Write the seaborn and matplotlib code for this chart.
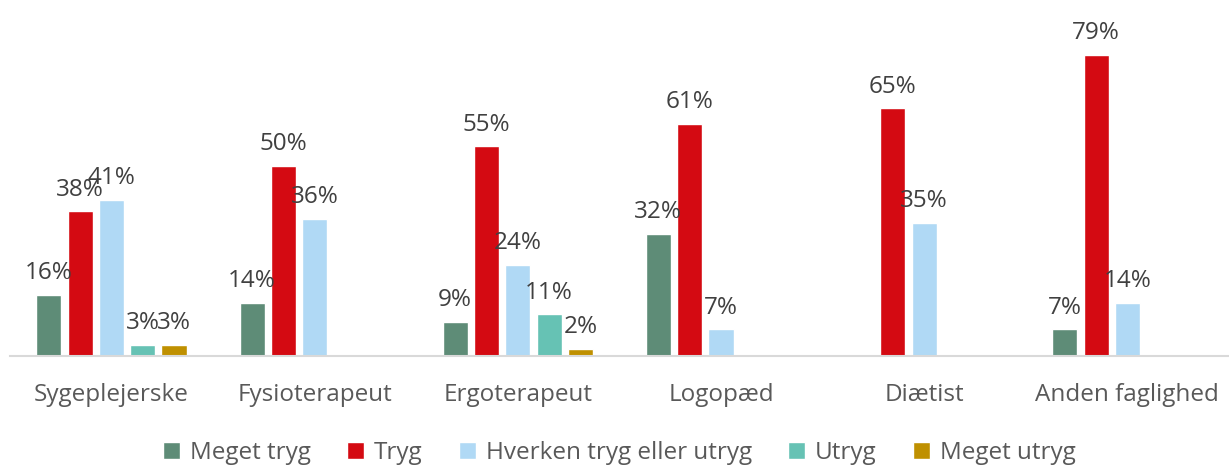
import numpy as np
import pandas as pd
import seaborn as sns
import matplotlib.pyplot as plt

categories = ["Sygeplejerske", "Fysioterapeut", "Ergoterapeut", "Logopæd", "Diætist", "Anden faglighed"]
series = ["Meget tryg", "Tryg", "Hverken tryg eller utryg", "Utryg", "Meget utryg"]
meget_tryg = [0.16, 0.14, 0.09, 0.32, np.nan, 0.07]
tryg = [0.38, 0.50, 0.55, 0.61, 0.65, 0.79]
hverken = [0.41, 0.36, 0.24, 0.07, 0.35, 0.14]
utryg = [0.03, np.nan, 0.11, np.nan, np.nan, np.nan]
meget_utryg = [0.03, np.nan, 0.02, np.nan, np.nan, np.nan]
colors = ["#5E8C77", "#D40A12", "#B0D9F5", "#66C2B4", "#BF9000"]

values = [meget_tryg, tryg, hverken, utryg, meget_utryg]
rows = []
for s, vals in zip(series, values):
    for c, v in zip(categories, vals):
        rows.append({"kategori": c, "serie": s, "andel": v})
df = pd.DataFrame(rows)

sns.set_style("white")
plt.rcParams['font.family'] = ['Open Sans', 'DejaVu Sans']

fig = plt.figure(figsize=(12.29, 4.65), dpi=100)
ax = fig.add_axes([0.008, 0.234, 0.992, 0.766])

sns.barplot(data=df, x="kategori", y="andel", hue="serie", order=categories,
            hue_order=series, palette=colors, width=0.77, ax=ax, legend=True,
            errorbar=None, saturation=1)

# slimmer bars with gaps between them, like the original
for p in ax.patches:
    w = p.get_width()
    if w == 0 or np.isnan(p.get_height()):
        continue
    nw = w * 0.8
    p.set_x(p.get_x() + (w - nw) / 2)
    p.set_width(nw)

for cont in ax.containers:
    labels = ["" if np.isnan(v) else f"{v*100:.0f}%" for v in cont.datavalues]
    ax.bar_label(cont, labels=labels, padding=7, fontsize=17.5, color="#404040")

ax.set_ylim(0, 0.934)
ax.set_xlim(-0.5, 5.5)
ax.set_yticks([])
ax.set_xlabel("")
ax.set_ylabel("")
for side in ["top", "right", "left"]:
    ax.spines[side].set_visible(False)
ax.spines["bottom"].set_color("#D9D9D9")
ax.spines["bottom"].set_linewidth(1.5)
ax.tick_params(axis="x", length=0, pad=19, labelsize=17.5, labelcolor="#595959")

ax.legend(loc="center", bbox_to_anchor=(0.5, -0.272), ncol=5, frameon=False,
          fontsize=17.5, handlelength=0.7, handleheight=0.7, handletextpad=0.4,
          columnspacing=1.5, labelcolor="#595959")

fig.savefig("out.png", dpi=100)
